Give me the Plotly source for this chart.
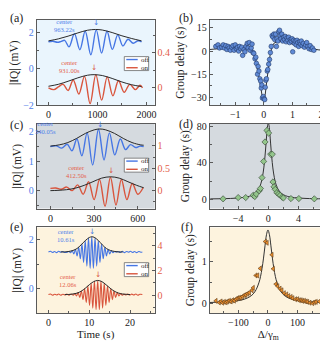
import plotly.graph_objects as go

W, H = 328, 341

# ---------------- panel (a): ringdown, off / on, extrema
A_OFF_T = [0, 90, 180, 260, 330, 420, 530, 640, 750, 865, 975, 1085, 1195, 1305, 1415, 1520, 1625, 1730, 1830, 1900]
A_OFF_V = [1.50, 1.53, 1.47, 1.52, 1.58, 1.22, 1.95, 1.06, 2.08, 0.78, 2.16, 0.88, 2.08, 1.08, 1.88, 1.27, 1.64, 1.42, 1.56, 1.50]
A_ON_T = [0, 110, 200, 300, 400, 505, 620, 735, 850, 967, 1085, 1200, 1315, 1430, 1545, 1660, 1775, 1870, 1920]
A_ON_V = [0.0, -0.02, 0.01, 0.04, -0.03, 0.09, -0.07, 0.13, -0.18, 0.15, -0.14, 0.125, -0.09, 0.08, -0.05, 0.04, -0.02, 0.03, 0.0]
A_ENV_OFF_T = [0, 200, 400, 600, 800, 963, 1100, 1300, 1500, 1700, 1900]
A_ENV_OFF_V = [1.55, 1.66, 1.81, 1.99, 2.14, 2.18, 2.15, 2.01, 1.83, 1.68, 1.55]
A_ENV_ON_T = [0, 200, 400, 600, 800, 931, 1100, 1300, 1500, 1700, 1900]
A_ENV_ON_V = [0.018, 0.04, 0.075, 0.114, 0.144, 0.15, 0.14, 0.107, 0.067, 0.035, 0.015]
A_CENTERS = [963.22, 931.00]

# ---------------- panel (b): group delay vs detuning
B_X = [-1.68, -1.6, -1.55, -1.47, -1.42, -1.38, -1.33, -1.29, -1.25, -1.21, -1.17, -1.12, -1.08, -1.04,
       -1.0, -0.96, -0.92, -0.88, -0.85, -0.81, -0.77, -0.74, -0.69, -0.66, -0.62, -0.58, -0.55, -0.51,
       -0.48, -0.44, -0.41, -0.38, -0.35, -0.31, -0.28, -0.26, -0.22, -0.2, -0.17, -0.14, -0.11, -0.09,
       -0.07, -0.05, -0.02, 0.01, 0.03, 0.05, 0.07, 0.09, 0.12, 0.14, 0.17, 0.2, 0.23, 0.26, 0.29, 0.32,
       0.35, 0.38, 0.41, 0.44, 0.46, 0.49, 0.52, 0.55, 0.57, 0.6, 0.63, 0.66, 0.69, 0.72, 0.75, 0.78,
       0.81, 0.84, 0.87, 0.9, 0.93, 0.96, 0.99, 1.01, 1.04, 1.07, 1.1, 1.13, 1.16, 1.19, 1.22, 1.25,
       1.28, 1.31, 1.34, 1.38, 1.42, 1.46, 1.5, 1.54, 1.58, 1.62, 1.66, 1.7, 1.75]
B_Y = [3.0, 4.0, 2.0, 2.5, 4.0, 2.0, 3.5, 1.0, 3.0, 2.0, 0.5, 2.5, 3.5, 0.5,
       4.0, 1.5, 2.5, 0.0, 3.0, 1.5, 2.5, -2.8, 1.0, -0.5, 3.0, 5.0, 2.0, 5.5,
       0.5, 2.0, 4.5, -1.0, -1.5, -5.0, -4.0, -8.0, -15.0, -10.0, -13.0, -18.0, -19.5, -24.0,
       -22.0, -30.5, -29.5, -31.0, -31.5, -23.5, -19.0, -18.0, -13.0, -12.0, -8.5, -5.5, -1.0, 3.0, 10.0, 9.0,
       11.0, 7.5, 11.0, 3.0, 8.0, 6.5, 12.5, 13.5, 10.0, 8.0, 11.0, 6.5, 9.0, 7.5, 9.5, 6.0,
       8.5, 7.0, 9.0, 5.5, 7.5, 6.5, 8.0, -0.5, 7.0, 5.0, 6.5, 4.0, 7.0, 5.5, 3.0, 6.0,
       4.5, 6.5, 3.5, 5.0, 2.5, 4.0, 5.5, 3.0, 1.5, 3.5, 1.0, 2.0, 0.5]
B_FIT_X = [-1.89, -1.6, -1.3, -1.0, -0.7, -0.5, -0.42, -0.35, -0.28, -0.2, -0.12, -0.06, 0.0,
           0.05, 0.1, 0.16, 0.22, 0.28, 0.35, 0.45, 0.6, 0.8, 1.0, 1.3, 1.6, 1.9, 2.2]
B_FIT_Y = [1.0, 1.5, 2.0, 2.5, 3.0, 2.8, 1.5, -2.0, -7.0, -14.0, -22.0, -29.0, -32.0,
           -28.0, -20.0, -10.0, -2.5, 2.5, 5.0, 6.0, 6.2, 5.5, 4.5, 3.0, 1.8, 0.8, 0.3]

# ---------------- panel (c)
C_OFF_T = [0, 40, 77, 115, 148, 182, 216, 252, 290, 330, 368, 405, 442, 480, 516, 550, 585, 615, 640]
C_OFF_V = [1.50, 1.53, 1.45, 1.58, 1.36, 1.76, 1.19, 1.97, 0.88, 2.09, 1.05, 1.97, 1.22, 1.76, 1.40, 1.57, 1.47, 1.52, 1.50]
C_ON_T = [0, 37, 75, 112, 150, 187, 225, 262, 300, 337, 375, 412, 450, 487, 525, 562, 600, 637]
C_ON_V = [0.05, 0.06, 0.03, 0.08, 0.0, 0.13, -0.08, 0.2, -0.2, 0.25, -0.35, 0.30, -0.32, 0.25, -0.2, 0.16, -0.08, 0.07]
C_ENV_OFF_T = [0, 60, 120, 180, 240, 300, 340, 380, 440, 500, 560, 620, 640]
C_ENV_OFF_V = [1.52, 1.56, 1.64, 1.78, 1.95, 2.07, 2.10, 2.07, 1.95, 1.78, 1.64, 1.56, 1.55]
C_ENV_ON_T = [0, 52, 112, 172, 232, 292, 352, 412, 472, 532, 592, 640]
C_ENV_ON_V = [0.0, 0.007, 0.022, 0.056, 0.119, 0.2, 0.28, 0.31, 0.28, 0.2, 0.119, 0.065]
C_CENTERS = [340.05, 412.50]

# ---------------- panel (d)
D_X = [-6.0, -4.0, -3.0, -2.0, -1.8, -1.6, -1.2, -1.05, -0.84, -0.62, -0.44, -0.18, 0.04, 0.31, 0.53,
       0.62, 0.75, 0.92, 1.14, 1.36, 1.58, 1.85, 2.0, 3.0, 4.05, 6.1]
D_Y = [0.4, 1.8, 1.8, 4.3, 2.9, 5.7, 9.3, 11.8, 23.7, 41.6, 63.0, 75.7, 72.8, 49.5, 49.5,
       19.0, 13.6, 10.8, 7.2, 5.7, 4.3, 2.2, 1.4, 0.7, 0.7, 0.4]
D_FIT_X = [-7.7, -6, -5, -4, -3, -2.5, -2, -1.5, -1.2, -1, -0.8, -0.6, -0.45, -0.3, -0.2, -0.1, 0,
           0.1, 0.2, 0.3, 0.45, 0.6, 0.8, 1, 1.2, 1.5, 2, 2.5, 3, 4, 5, 6, 7.7]
D_FIT_Y = [0.35, 0.58, 0.83, 1.3, 2.27, 3.23, 4.94, 8.4, 12.4, 16.8, 23.6, 34.4, 46.4, 61.8, 72.4, 80.8, 84.0,
           80.8, 72.4, 61.8, 46.4, 34.4, 23.6, 16.8, 12.4, 8.4, 4.94, 3.23, 2.27, 1.3, 0.83, 0.58, 0.35]

# ---------------- panel (e)
E_OFF_T = [0, 0.5, 1.0, 1.5, 2.0, 2.5, 3.0, 3.5, 4.0,
           4.61, 5.01, 5.41, 5.81, 6.21, 6.61, 7.01, 7.41, 7.81, 8.21, 8.61, 9.01, 9.41, 9.81, 10.21, 10.61,
           11.01, 11.41, 11.81, 12.21, 12.61, 13.01, 13.41, 13.81, 14.21, 14.61, 15.01, 15.41, 15.81, 16.21, 16.61,
           17.1, 17.6, 18.1, 18.6, 19.1, 19.6, 20.1, 20.6, 21.1, 21.6, 22.1, 22.6, 23.0]
E_OFF_V = [1.50, 1.53, 1.48, 1.52, 1.47, 1.53, 1.49, 1.52, 1.48,
           1.49, 1.52, 1.47, 1.55, 1.42, 1.60, 1.34, 1.69, 1.22, 1.82, 1.07, 1.96, 0.92, 2.08, 0.83, 2.12,
           0.83, 2.08, 0.92, 1.96, 1.07, 1.82, 1.22, 1.69, 1.34, 1.60, 1.42, 1.55, 1.47, 1.52, 1.49,
           1.52, 1.48, 1.53, 1.47, 1.52, 1.49, 1.53, 1.48, 1.52, 1.47, 1.52, 1.49, 1.50]
E_ON_T = [0, 0.5, 1.0, 1.5, 2.0, 2.5, 3.0, 3.5, 4.0, 4.5, 5.0, 5.3,
          5.66, 6.06, 6.46, 6.86, 7.26, 7.66, 8.06, 8.46, 8.86, 9.26, 9.66, 10.06, 10.46, 10.86, 11.26, 11.66,
          12.06, 12.46, 12.86, 13.26, 13.66, 14.06, 14.46, 14.86, 15.26, 15.66, 16.06, 16.46, 16.86, 17.26,
          17.66, 18.06, 18.46, 18.9, 19.4, 19.9, 20.4, 20.9, 21.4, 21.9, 22.4, 23.0]
E_ON_V = [0.05, 0.1, 0.0, 0.08, 0.02, 0.1, 0.0, 0.08, 0.02, 0.1, 0.0, 0.06,
          0.08, 0.0, 0.13, -0.07, 0.21, -0.18, 0.34, -0.36, 0.52, -0.58, 0.75, -0.83, 0.97, -1.05, 1.14, -1.18,
          1.20, -1.18, 1.14, -1.05, 0.97, -0.83, 0.75, -0.58, 0.52, -0.36, 0.34, -0.18, 0.21, -0.07,
          0.13, 0.0, 0.08, 0.02, 0.1, 0.01, 0.09, 0.02, 0.1, 0.0, 0.08, 0.05]
E_ENV_OFF_T = [3.0, 4.0, 5.0, 6.0, 7.0, 8.0, 9.0, 10.0, 10.61, 11.2, 12.2, 13.2, 14.2, 15.2, 16.2, 17.2, 18.2]
E_ENV_OFF_V = [1.50, 1.50, 1.52, 1.56, 1.64, 1.79, 1.96, 2.09, 2.12, 2.10, 1.97, 1.79, 1.64, 1.56, 1.52, 1.50, 1.50]
E_ENV_ON_T = [4.0, 5.0, 6.0, 7.0, 8.0, 9.0, 10.0, 11.0, 12.06, 13.1, 14.1, 15.1, 16.1, 17.1, 18.1, 19.1, 20.0]
E_ENV_ON_V = [0.05, 0.06, 0.10, 0.17, 0.32, 0.56, 0.85, 1.09, 1.20, 1.10, 0.85, 0.57, 0.33, 0.18, 0.10, 0.07, 0.05]
E_CENTERS = [10.61, 12.06]

# ---------------- panel (f)
F_X = [-176, -165, -159, -154, -148, -142, -137, -131, -125, -120, -114, -108, -103, -97, -92, -86, -80,
       -75, -69, -63, -54, -50, -41, -35, -26, -9, -3, 13.5, 18, 27, 33, 40.7, 47, 55, 63, 70, 78, 84,
       93, 100, 106, 112, 117, 123, 129, 134, 142, 151, 157, 163, 174]
F_Y = [0.055, 0.016, 0.04, 0.01, 0.03, 0.02, 0.04, 0.055, 0.04, 0.07, 0.06, 0.095, 0.12, 0.13, 0.13, 0.16, 0.19,
       0.2, 0.23, 0.25, 0.31, 0.37, 0.67, 0.67, 0.84, 1.49, 1.46, 1.17, 0.83, 0.46, 0.41, 0.35, 0.31, 0.24, 0.21, 0.17, 0.15, 0.12,
       0.095, 0.095, 0.07, 0.07, 0.055, 0.055, 0.04, 0.03, 0.01, 0.0, 0.02, 0.03, 0.04]
F_FIT_X = [-197, -160, -130, -100, -80, -60, -50, -40, -30, -25, -20, -15, -10, -5, 0,
           5, 10, 15, 20, 25, 30, 40, 50, 60, 80, 100, 130, 160, 199]
F_FIT_Y = [0.016, 0.025, 0.037, 0.062, 0.095, 0.161, 0.223, 0.326, 0.507, 0.648, 0.84, 1.09, 1.386, 1.655, 1.77,
           1.655, 1.386, 1.09, 0.84, 0.648, 0.507, 0.326, 0.223, 0.161, 0.095, 0.062, 0.037, 0.025, 0.016]

BLUE = "#4676e4"
RED = "#d9553d"
BLUE_TXT = "#4f80ea"
RED_TXT = "#e4604a"
ENV = "#2a2a2a"
FRAME = "#5a5a5a"
INK = "#222222"
FONT = "Liberation Serif"

LEFT = [29 / W, 147.5 / W]
RIGHT = [203 / W, 320.7 / W]
ROWS = [[1 - 96.7 / H, 1 - 9.3 / H], [1 - 202.3 / H, 1 - 115.7 / H], [1 - 309.3 / H, 1 - 221.7 / H]]
BG = ["#eaf5fd", "#d5dadf", "#fdf3de"]

fig = go.Figure()


def line(xs, ys, color, xa, ya, width=1.4):
    fig.add_trace(go.Scatter(x=xs, y=ys, mode="lines", xaxis=xa, yaxis=ya, hoverinfo="skip",
                             line=dict(color=color, width=width, shape="spline", smoothing=1.0)))


def dots(xs, ys, xa, ya, symbol, fill, edge, size):
    fig.add_trace(go.Scatter(x=xs, y=ys, mode="markers", xaxis=xa, yaxis=ya, hoverinfo="skip",
                             marker=dict(symbol=symbol, size=size, color=fill, line=dict(color=edge, width=0.6))))


# (a)
line(A_OFF_T, A_OFF_V, BLUE, "x", "y")
line(A_ON_T, A_ON_V, RED, "x", "y7")
line(A_ENV_OFF_T, A_ENV_OFF_V, ENV, "x", "y", 1.0)
line(A_ENV_ON_T, A_ENV_ON_V, ENV, "x", "y7", 1.0)
# (b)
fig.add_trace(go.Scatter(x=B_FIT_X, y=B_FIT_Y, mode="lines", xaxis="x2", yaxis="y2", hoverinfo="skip",
                         line=dict(color="#333333", width=1)))
dots(B_X, B_Y, "x2", "y2", "circle", "#5f8ad6", "#233a6a", 4.6)
# (c)
line(C_OFF_T, C_OFF_V, BLUE, "x3", "y3")
line(C_ON_T, C_ON_V, RED, "x3", "y8")
line(C_ENV_OFF_T, C_ENV_OFF_V, ENV, "x3", "y3", 1.0)
line(C_ENV_ON_T, C_ENV_ON_V, ENV, "x3", "y8", 1.0)
# (d)
line(D_FIT_X, D_FIT_Y, "#333333", "x4", "y4", 1.0)
dots(D_X, D_Y, "x4", "y4", "diamond", "#93c58b", "#2f3f2f", 4.8)
# (e)
line(E_OFF_T, E_OFF_V, BLUE, "x5", "y5", 1.1)
line(E_ON_T, E_ON_V, RED, "x5", "y9", 1.1)
line(E_ENV_OFF_T, E_ENV_OFF_V, ENV, "x5", "y5", 1.0)
line(E_ENV_ON_T, E_ENV_ON_V, ENV, "x5", "y9", 1.0)
# (f)
line(F_FIT_X, F_FIT_Y, "#333333", "x6", "y6", 1.0)
dots(F_X, F_Y, "x6", "y6", "triangle-left", "#ee8f2d", "#5a3a1a", 4.4)


def axis(domain, rng, dtick, mdtick, color=INK, **kw):
    d = dict(domain=domain, range=rng, dtick=dtick, tick0=0, showline=True, linecolor=FRAME, linewidth=1,
             mirror=True, ticks="inside", ticklen=3, tickcolor=FRAME, showgrid=False, zeroline=False,
             tickfont=dict(size=10, color=color),
             minor=dict(dtick=mdtick, tick0=0, ticks="inside", ticklen=2, tickcolor=FRAME, showgrid=False))
    d.update(kw)
    return d


def ytitle(text, standoff):
    return dict(text=text, font=dict(size=11.5, color=INK), standoff=standoff)


fig.update_layout(
    width=W, height=H, margin=dict(l=0, r=0, t=0, b=0),
    paper_bgcolor="white", plot_bgcolor="white", showlegend=False,
    font=dict(family=FONT, color=INK),
    xaxis=axis(LEFT, [-238, 2167], 1000, 500, anchor="y"),
    yaxis=axis(ROWS[0], [-2.02, 2.70], 2, 1, BLUE_TXT, anchor="x", title=ytitle("|IQ| (mV)", 4)),
    yaxis7=axis(ROWS[0], [-0.2, 0.771], 0.4, 0.2, RED_TXT, anchor="x", overlaying="y", side="right"),
    xaxis2=axis(RIGHT, [-1.89, 2.2], 1, 0.5, anchor="y2"),
    yaxis2=axis(ROWS[0], [-35.3, 20.1], 15, 7.5, anchor="x2", title=ytitle("Group delay (s)", 4)),
    xaxis3=axis(LEFT, [-93, 715], 300, 150, anchor="y3"),
    yaxis3=axis(ROWS[1], [-0.6, 2.27], 1, 0.5, BLUE_TXT, anchor="x3", title=ytitle("|IQ| (mV)", 4)),
    yaxis8=axis(ROWS[1], [-0.40, 1.49], 0.5, 0.25, RED_TXT, anchor="x3", overlaying="y3", side="right"),
    xaxis4=axis(RIGHT, [-7.77, 7.75], 4, 2, anchor="y4"),
    yaxis4=axis(ROWS[1], [-10.3, 82.8], 40, 20, anchor="x4", title=ytitle("Group delay (s)", 4)),
    xaxis5=axis(LEFT, [-2.85, 26.0], 10, 5, anchor="y5", title=dict(text="Time (s)", font=dict(size=11), standoff=2)),
    yaxis5=axis(ROWS[2], [-1.0, 2.5], 2, 1, BLUE_TXT, anchor="x5", title=ytitle("|IQ| (mV)", 4)),
    yaxis9=axis(ROWS[2], [-1.45, 5.5], 2, 1, RED_TXT, anchor="x5", overlaying="y5", side="right"),
    xaxis6=axis(RIGHT, [-197, 199], 100, 50, anchor="y6",
                title=dict(text="Δ/γ<sub>m</sub>", font=dict(size=11), standoff=2)),
    yaxis6=axis(ROWS[2], [-0.24, 1.83], 1, 0.5, anchor="x6", title=ytitle("Group delay (s)", 4)),
)

# panel backgrounds
for i, (xa, ya) in enumerate([("x", "y"), ("x2", "y2"), ("x3", "y3"), ("x4", "y4"), ("x5", "y5"), ("x6", "y6")]):
    fig.add_shape(type="rect", xref=xa + " domain", yref=ya + " domain", x0=0, x1=1, y0=0, y1=1,
                  fillcolor=BG[i // 2], line_width=0, layer="below")


def note(text, px, py, color=INK, size=7, anchor="center"):
    fig.add_annotation(text=text, x=px / W, y=1 - py / H, xref="paper", yref="paper", showarrow=False,
                       font=dict(size=size, color=color), xanchor=anchor, yanchor="middle")


# panel letters
for lab, px, py in [("(a)", 8.3, 7.2), ("(b)", 179, 6.7), ("(c)", 8.3, 116.7),
                    ("(d)", 179, 115.5), ("(e)", 8.3, 221), ("(f)", 180, 221.7)]:
    note(lab, px, py, INK, 12)

# centre labels, two lines each
for t, px, py, col in [(A_CENTERS[0], 57.3, 15.2, BLUE_TXT), (A_CENTERS[1], 62, 56.8, RED_TXT),
                       (C_CENTERS[0], 37.3, 119.8, BLUE_TXT), (C_CENTERS[1], 69, 164.7, RED_TXT),
                       (E_CENTERS[0], 58, 229.7, BLUE_TXT), (E_CENTERS[1], 60.8, 275.5, RED_TXT)]:
    note("center<br>%.2fs" % t, px, py, col, 6.5)

# arrows pointing at the envelope maxima
for x, y, xa, ya, col in [(A_CENTERS[0], 2.26, "x", "y", BLUE), (A_CENTERS[1], 0.165, "x", "y7", RED),
                          (C_CENTERS[0], 2.06, "x3", "y3", BLUE), (C_CENTERS[1], 0.32, "x3", "y8", RED),
                          (E_CENTERS[0], 2.13, "x5", "y5", BLUE), (E_CENTERS[1], 1.22, "x5", "y9", RED)]:
    fig.add_annotation(x=x, y=y, xref=xa, yref=ya, text="↓", showarrow=False, yanchor="bottom", borderpad=0,
                       font=dict(size=7.5, color=col, family="DejaVu Sans"))

# small legends
for top in [46.7, 150.7, 257.7]:
    left = 117
    fig.add_shape(type="rect", xref="paper", yref="paper", x0=left / W, x1=(left + 24.5) / W,
                  y0=1 - (top + 14.3) / H, y1=1 - top / H, line=dict(color="#6a6a6a", width=0.8),
                  fillcolor="white")
    for dy, col, lab in [(3.0, BLUE, "off"), (11.4, RED, "on")]:
        fig.add_shape(type="line", xref="paper", yref="paper", x0=(left + 2) / W, x1=(left + 13.5) / W,
                      y0=1 - (top + dy) / H, y1=1 - (top + dy) / H, line=dict(color=col, width=1.4))
        note(lab, left + 14.5, top + dy, INK, 7, "left")

fig.write_html("out.html")
